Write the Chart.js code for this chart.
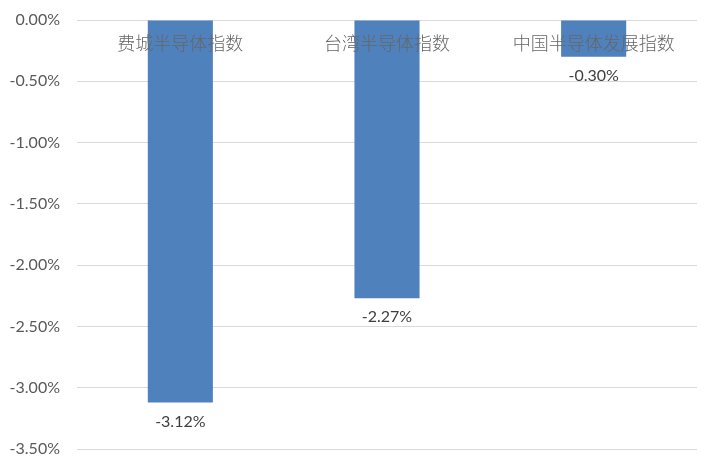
<!DOCTYPE html>
<html>
<head>
<meta charset="utf-8">
<script src="https://cdn.jsdelivr.net/npm/chart.js@4"></script>
<style>
  html, body { margin: 0; padding: 0; background: #fff; }
  #wrap { width: 717px; height: 469px; }
</style>
</head>
<body>
<div id="wrap"><canvas id="chart"></canvas></div>
<script>
const categories = ["费城半导体指数", "台湾半导体指数", "中国半导体发展指数"];
const values = [-3.12, -2.27, -0.30];

const numFont = "Lato, 'Noto Sans CJK SC', sans-serif";
const cjkFont = "'Noto Sans CJK SC', sans-serif";

// category names sit just under the zero line, drawn over the bars
const topLabels = {
  id: "topLabels",
  afterDatasetsDraw(chart) {
    const ctx = chart.ctx;
    const x = chart.scales.x;
    const y = chart.scales.y;
    ctx.save();
    ctx.font = "300 18px " + cjkFont;
    ctx.fillStyle = "#666666";
    ctx.textAlign = "center";
    ctx.textBaseline = "middle";
    categories.forEach((c, i) => {
      ctx.fillText(c, x.getPixelForValue(i), y.getPixelForValue(0) + 23);
    });
    // value labels under the bar ends
    ctx.font = "16px " + numFont;
    ctx.fillStyle = "#404040";
    values.forEach((v, i) => {
      ctx.fillText(v.toFixed(2) + "%", x.getPixelForValue(i), y.getPixelForValue(v) + 19);
    });
    ctx.restore();
  }
};

new Chart(document.getElementById("chart"), {
  type: "bar",
  data: {
    labels: categories,
    datasets: [{
      data: values,
      backgroundColor: "#4F81BD",
      barPercentage: 0.315,
      categoryPercentage: 1
    }]
  },
  options: {
    responsive: true,
    maintainAspectRatio: false,
    animation: false,
    layout: { padding: { top: 20, bottom: 20, right: 20, left: 0 } },
    plugins: { legend: { display: false }, tooltip: { enabled: false } },
    scales: {
      x: { display: false },
      y: {
        min: -3.5,
        max: 0,
        afterFit(scale) {
          scale.width = 77;
          scale.paddingTop = 0;
          scale.paddingBottom = 0;
        },
        ticks: {
          stepSize: 0.5,
          padding: 17,
          color: "#595959",
          font: { size: 16, family: numFont },
          callback: v => (Math.abs(v) < 1e-9 ? 0 : v).toFixed(2) + "%"
        },
        grid: { color: "#D9D9D9", lineWidth: 1, drawTicks: false },
        border: { display: false }
      }
    }
  },
  plugins: [topLabels]
});
</script>
</body>
</html>
